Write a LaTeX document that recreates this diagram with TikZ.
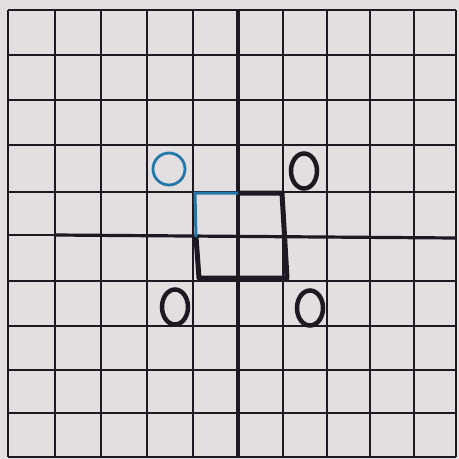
\documentclass[tikz,border=0pt]{standalone}
\usetikzlibrary{shapes.geometric}
\definecolor{paper}{RGB}{227,222,223}
\definecolor{ink}{RGB}{28,25,35}
\definecolor{blueink}{RGB}{35,120,170}
\tikzset{
  gridline/.style={draw=ink, line width=2.4pt},
  axisline/.style={draw=ink, line width=3.2pt},
  sqline/.style={draw=ink, line width=5pt, line cap=round, line join=round},
  bluesq/.style={draw=blueink, line width=3pt, line join=round},
  bluering/.style={circle, draw=blueink, line width=2.8pt, minimum size=32pt, inner sep=0pt},
  oval/.style={ellipse, draw=ink, line width=4.5pt, minimum width=26pt, minimum height=35pt, inner sep=0pt}
}
\begin{document}
\begin{tikzpicture}[x=1pt,y=-1pt]
\fill[paper] (0,0) rectangle (459,459);
\useasboundingbox (0,0) rectangle (459,459);
% grid
\foreach \x in {8,55,101,147,193,283,327,370,414,456} {
  \draw[gridline] (\x,10) -- (\x,457);
}
\foreach \y in {10,55,100,145,192,281,326,370,413,457} {
  \draw[gridline] (8,\y) -- (456,\y);
}
\draw[gridline] (8,235) -- (55,235);
% axes
\draw[axisline] (238,10) -- (238,457);
\draw[axisline] (55,235) -- (456,238);
% square
\coordinate (A) at (195,193);
\coordinate (B) at (282,193);
\coordinate (C) at (287,278);
\coordinate (D) at (199,278);
\coordinate (M1) at (238,193);
\coordinate (M2) at (196,237);
\draw[sqline] (M1) -- (B) -- (C) -- (D) -- (M2);
\draw[bluesq] (M2) -- (A) -- (M1);
% circle and ovals
\node[bluering] (c1) at (169,169) {};
\node[oval] (o1) at (304,171) {};
\node[oval] (o2) at (175,307) {};
\node[oval] (o3) at (310,308) {};
\end{tikzpicture}
\end{document}
